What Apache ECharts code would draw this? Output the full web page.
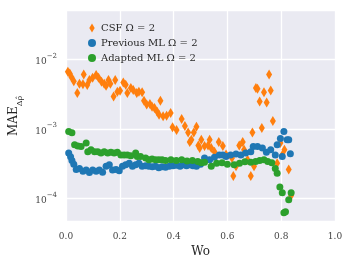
<!DOCTYPE html>
<html>
<head>
<meta charset="utf-8">
<script src="https://cdn.jsdelivr.net/npm/echarts@6/dist/echarts.min.js"></script>
<style>
html,body{margin:0;padding:0;background:#fff;}
#chart{width:353px;height:269px;}
</style>
</head>
<body>
<div id="chart"></div>
<script>
// ---- data ----
const seriesNames = ['CSF \u03A9 = 2', 'Previous ML \u03A9 = 2', 'Adapted ML \u03A9 = 2'];
const xTicks = [0.0, 0.2, 0.4, 0.6, 0.8, 1.0];
const yTicks = [1e-4, 1e-3, 1e-2];

const csfX = [0.007,0.014,0.020,0.029,0.042,0.050,0.063,0.066,0.079,0.087,0.099,0.112,0.121,0.132,0.142,0.149,0.158,0.165,0.177,0.183,0.191,0.201,0.213,0.222,0.228,0.241,0.250,0.263,0.271,0.283,0.290,0.300,0.312,0.320,0.329,0.339,0.346,0.351,0.361,0.374,0.389,0.396,0.411,0.430,0.442,0.454,0.460,0.466,0.475,0.485,0.492,0.497,0.503,0.515,0.528,0.534,0.540,0.552,0.568,0.583,0.595,0.617,0.622,0.632,0.644,0.657,0.662,0.675,0.687,0.693,0.699,0.706,0.712,0.720,0.728,0.736,0.746,0.755,0.761,0.769,0.785,0.797,0.804,0.812,0.828,0.837];
const csfY = [6.7e-3,6.3e-3,5.6e-3,4.9e-3,3.3e-3,4.5e-3,4.4e-3,6.1e-3,4.3e-3,5.1e-3,5.5e-3,6.0e-3,5.5e-3,4.8e-3,4.5e-3,4.2e-3,5.1e-3,4.5e-3,2.95e-3,5.1e-3,3.45e-3,3.55e-3,4.7e-3,4.35e-3,3.3e-3,3.9e-3,3.65e-3,3.3e-3,3.45e-3,3.4e-3,2.55e-3,2.25e-3,2.3e-3,2.1e-3,2.0e-3,1.77e-3,1.6e-3,2.55e-3,1.52e-3,1.55e-3,1.7e-3,1.06e-3,9.7e-4,1.39e-3,1.1e-3,8.9e-4,6.5e-4,7.0e-4,8.9e-4,1.08e-3,5.8e-4,5.3e-4,7.0e-4,5.7e-4,5.8e-4,7.0e-4,5.3e-4,4.7e-4,6.5e-4,5.7e-4,4.3e-4,3.8e-4,2.1e-4,2.9e-4,5.8e-4,6.5e-4,5.0e-4,3.6e-4,2.1e-4,8.9e-4,2.9e-4,3.9e-3,3.8e-3,2.5e-3,1.03e-3,3.4e-3,2.4e-3,6.1e-3,3.6e-3,1.3e-3,3.2e-4,6.3e-4,4.2e-4,5.0e-4,2.6e-4,1.1e-4];

const prevX = [0.010,0.017,0.022,0.029,0.038,0.050,0.063,0.075,0.087,0.099,0.112,0.124,0.136,0.149,0.161,0.173,0.186,0.198,0.210,0.222,0.235,0.247,0.259,0.271,0.283,0.296,0.308,0.321,0.333,0.345,0.357,0.370,0.384,0.398,0.411,0.424,0.436,0.448,0.460,0.472,0.485,0.500,0.515,0.534,0.552,0.570,0.583,0.595,0.612,0.632,0.650,0.668,0.687,0.696,0.712,0.730,0.745,0.761,0.778,0.785,0.797,0.804,0.810,0.822,0.828,0.834];
const prevY = [4.5e-4,3.97e-4,3.5e-4,3.1e-4,2.6e-4,2.7e-4,2.45e-4,2.57e-4,2.35e-4,2.57e-4,2.45e-4,2.57e-4,2.38e-4,2.9e-4,3.05e-4,2.57e-4,2.6e-4,2.5e-4,2.9e-4,3.05e-4,3.2e-4,2.9e-4,3.05e-4,3.2e-4,2.9e-4,2.95e-4,2.9e-4,2.85e-4,2.9e-4,2.75e-4,2.85e-4,2.8e-4,2.9e-4,2.95e-4,3.0e-4,2.9e-4,3.05e-4,2.95e-4,3.05e-4,2.95e-4,2.9e-4,3.1e-4,3.8e-4,3.6e-4,3.9e-4,4.2e-4,4.2e-4,4.0e-4,4.2e-4,4.35e-4,4.2e-4,4.5e-4,4.7e-4,5.6e-4,5.6e-4,5.3e-4,4.6e-4,5.0e-4,4.2e-4,5.9e-4,7.3e-4,4.0e-4,9.2e-4,7.0e-4,7.0e-4,4.4e-4];

const adaptX = [0.010,0.022,0.032,0.044,0.056,0.075,0.081,0.093,0.106,0.118,0.130,0.142,0.155,0.167,0.179,0.191,0.204,0.216,0.228,0.241,0.259,0.265,0.277,0.296,0.308,0.320,0.333,0.345,0.357,0.370,0.390,0.410,0.430,0.450,0.470,0.490,0.503,0.515,0.540,0.560,0.580,0.600,0.625,0.645,0.665,0.687,0.705,0.720,0.736,0.750,0.765,0.778,0.785,0.795,0.804,0.810,0.816,0.828,0.837];
const adaptY = [9.2e-4,8.8e-4,5.9e-4,5.7e-4,5.6e-4,6.3e-4,4.7e-4,5.0e-4,4.7e-4,4.7e-4,4.5e-4,4.7e-4,4.5e-4,4.6e-4,4.5e-4,4.6e-4,4.2e-4,4.2e-4,4.2e-4,4.1e-4,4.5e-4,4.0e-4,4.0e-4,3.8e-4,3.6e-4,3.7e-4,3.6e-4,3.6e-4,3.6e-4,3.5e-4,3.6e-4,3.5e-4,3.6e-4,3.45e-4,3.5e-4,3.4e-4,3.25e-4,3.3e-4,2.9e-4,3.2e-4,3.25e-4,3.1e-4,3.04e-4,3.2e-4,3.36e-4,3.3e-4,3.4e-4,3.5e-4,3.6e-4,3.4e-4,3.25e-4,2.7e-4,2.3e-4,1.46e-4,1.2e-4,6.2e-5,6.4e-5,9.5e-5,1.2e-4];

const colors = ['#ff7f0e', '#1f77b4', '#2ca02c'];

function pairs(xs, ys) { return xs.map((x, i) => [x, ys[i]]); }

const serif = 'DejaVu Serif';
const chart = echarts.init(document.getElementById('chart'), null, {renderer: 'canvas'});

function supLabel(v) {
  const e = Math.log10(v);
  const r = Math.round(e);
  if (Math.abs(e - r) > 1e-6) return '';
  if (!yTicks.some(t => Math.abs(Math.log10(t) - r) < 1e-6)) return '';
  return '{b|10}{s|\u2212' + Math.abs(r) + '}';
}

const diamondPath = 'path://M3,0 L6,5 L3,10 L0,5 Z';

chart.setOption({
  animation: false,
  backgroundColor: '#ffffff',
  color: colors,
  grid: {left: 63.3, right: 18, top: 10, bottom: 47.3, show: true, backgroundColor: '#EAEAF2', borderWidth: 0},
  legend: {
    orient: 'vertical', left: 83, top: 18,
    itemWidth: 8, itemHeight: 9, itemGap: 5, itemTextGap: 13, symbolKeepAspect: true,
    textStyle: {fontFamily: serif, fontSize: 10, color: '#262626'},
    data: [
      {name: seriesNames[0], icon: diamondPath},
      {name: seriesNames[1], icon: 'circle'},
      {name: seriesNames[2], icon: 'circle'}
    ]
  },
  xAxis: {
    type: 'value', min: xTicks[0], max: xTicks[xTicks.length - 1], interval: 0.2,
    name: 'Wo', nameLocation: 'middle', nameGap: 24,
    nameTextStyle: {fontFamily: serif, fontSize: 12, color: '#262626'},
    axisLine: {show: false}, axisTick: {show: false},
    axisLabel: {fontFamily: serif, fontSize: 9, color: '#444', margin: 10, formatter: v => v.toFixed(1)},
    splitLine: {show: true, lineStyle: {color: '#ffffff', width: 1.3}}
  },
  yAxis: {
    type: 'log', logBase: 10, min: 4.6e-5, max: 0.052,
    name: '{m|MAE}{sub|\u0394\u03C1\u0302}', nameLocation: 'middle', nameGap: 42, nameRotate: 90,
    nameTextStyle: {fontFamily: serif, fontSize: 12, color: '#262626',
      rich: {m: {fontFamily: serif, fontSize: 12, color: '#262626', lineHeight: 16, verticalAlign: 'top'},
             sub: {fontFamily: serif, fontSize: 8, color: '#262626', verticalAlign: 'bottom', lineHeight: 16}}},
    axisLine: {show: false}, axisTick: {show: false},
    axisLabel: {fontFamily: serif, fontSize: 9, color: '#444', margin: 9, formatter: supLabel,
      rich: {b: {fontFamily: serif, fontSize: 9, color: '#444', lineHeight: 14, verticalAlign: 'bottom'},
             s: {fontFamily: serif, fontSize: 7, color: '#444', lineHeight: 14, verticalAlign: 'top'}}},
    splitLine: {show: true, lineStyle: {color: '#ffffff', width: 1.3}}
  },
  series: [
    {name: seriesNames[0], type: 'scatter', symbol: 'diamond', symbolSize: [6, 10], data: pairs(csfX, csfY), itemStyle: {color: colors[0], opacity: 1}},
    {name: seriesNames[1], type: 'scatter', symbol: 'circle', symbolSize: 7, data: pairs(prevX, prevY), itemStyle: {color: colors[1], opacity: 1}},
    {name: seriesNames[2], type: 'scatter', symbol: 'circle', symbolSize: 7, data: pairs(adaptX, adaptY), itemStyle: {color: colors[2], opacity: 1}}
  ]
});
</script>
</body>
</html>
